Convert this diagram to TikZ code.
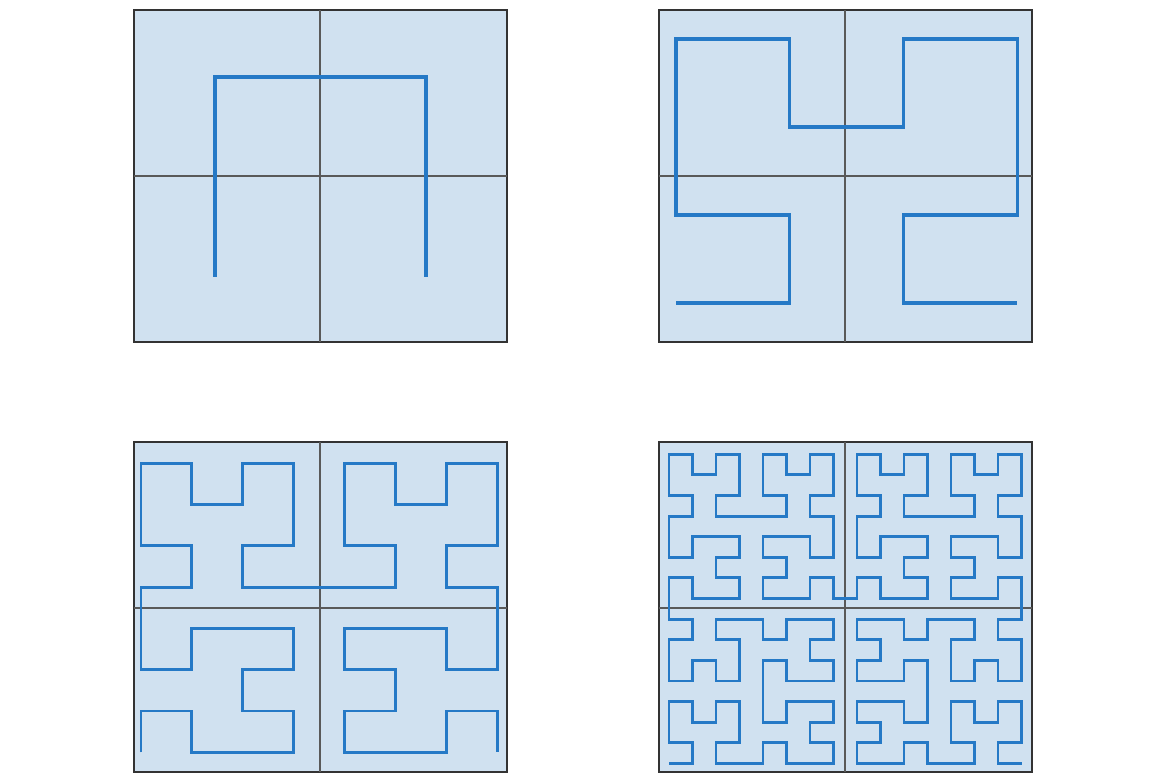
\documentclass[tikz,border=0pt]{standalone}
\usetikzlibrary{lindenmayersystems}
\pgfdeclarelindenmayersystem{Hilbert}{
  \rule{L -> +RF-LFL-FR+}
  \rule{R -> -LF+RFR+FL-}
}
\definecolor{panelfill}{HTML}{D0E1F0}
\definecolor{curveblue}{HTML}{2579C6}

\begin{document}
\begin{tikzpicture}[x=0.02cm, y=-0.02cm,
    panel/.style={draw=black!80, line width=1.2pt, fill=panelfill},
    divider/.style={draw=black!65, line width=0.9pt},
    hcurve/.style={draw=curveblue, line join=miter}]
\useasboundingbox (0,0) rectangle (1162,773);
% four panels, each split into quadrants
\foreach \px/\py/\ph in {134/10/332, 659/10/332, 134/442/330, 659/442/330} {
  \draw[panel] (\px,\py) rectangle ++(373,\ph);
  \draw[divider] (\px+186,\py) -- ++(0,\ph);
  \draw[divider] (\px,\py+166) -- ++(373,0);
}
% Hilbert curves of order 1 to 4
\foreach \ord/\cx/\cy/\dx/\dy/\lw in {1/215/277/211/200/2.3, 2/676/303/113.7/88/1.8,
    3/141/752.3/50.9/41.3/1.7, 4/669/763.3/23.5/20.6/1.6}
  \draw[hcurve, line width=\lw pt, shift={(\cx,\cy)}, xscale=\dx, yscale=\dy]
    [lindenmayer system={Hilbert, axiom=L, order=\ord, step=0.02cm, angle=90}]
    lindenmayer system;
\end{tikzpicture}
\end{document}
